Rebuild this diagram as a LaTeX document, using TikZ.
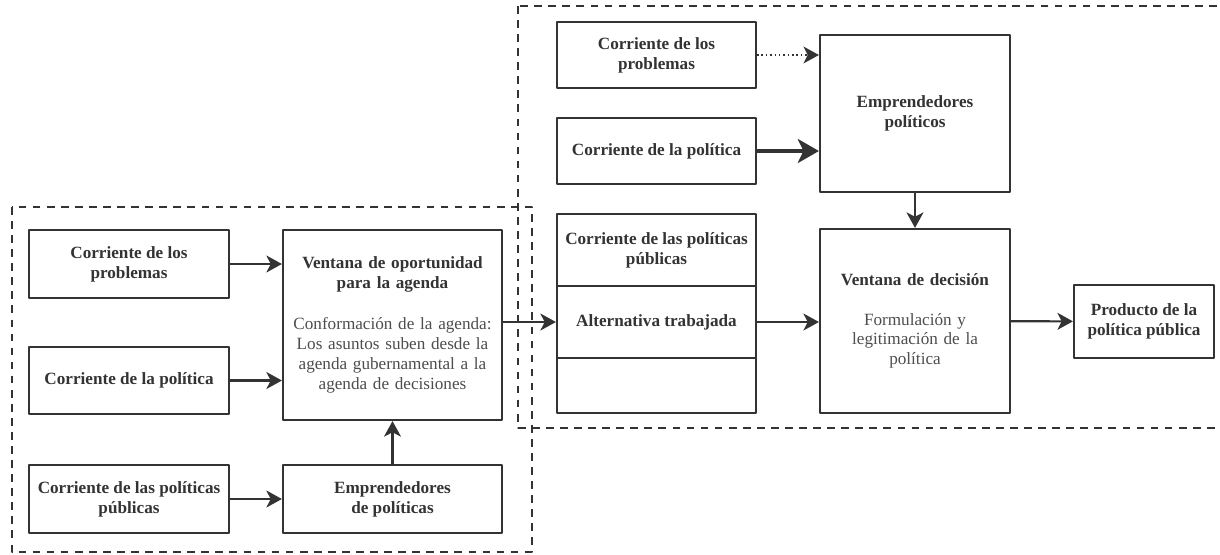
\documentclass[tikz,border=0pt]{standalone}
\usepackage{fontspec}
\setmainfont{Liberation Serif}
\usetikzlibrary{arrows.meta}
\definecolor{ink}{HTML}{333333}
\definecolor{note}{HTML}{4D4D4D}

\begin{document}
\begin{tikzpicture}[x=0.025cm,y=-0.025cm,line join=round,
  >={Stealth[length=11pt,width=12pt,inset=3pt]},
  font=\fontsize{12.2}{14.2}\selectfont\bfseries,
  box/.style={draw=ink,line width=1.5pt,align=center,inner sep=2pt,text=ink},
  flow/.style={->,draw=ink,line width=1.5pt},
  zone/.style={draw=ink,line width=1.3pt,dash pattern=on 5.5pt off 4.5pt}]
	\useasboundingbox (0,0) rectangle (1220,554);
	\draw[zone] (12,207) rectangle (532,552);
	\draw[zone] (518,6) rectangle (1240,428);

	\node[box,minimum width=5cm,minimum height=1.7cm] (lprob) at (129,264) {Corriente de los\\problemas};
	\node[box,minimum width=5cm,minimum height=1.675cm] (lpol) at (129,380.5) {Corriente de la política};
	\node[box,minimum width=5cm,minimum height=1.7cm] (lpub) at (129,499) {Corriente de las políticas\\públicas};
	\node[box,minimum width=5.475cm,minimum height=4.75cm,text width=5.3cm] (vopor) at (392.5,325)
		{Ventana de oportunidad\\para la agenda\\[15pt]{\mdseries\color{note}Conformación de la agenda:\\Los asuntos suben desde la\\agenda gubernamental a la\\agenda de decisiones}};
	\node[box,minimum width=5.475cm,minimum height=1.7cm] (lemp) at (392.5,499) {Emprendedores\\de políticas};

	\node[box,minimum width=4.975cm,minimum height=1.65cm] (rprob) at (656.5,55) {Corriente de los\\problemas};
	\node[box,minimum width=4.975cm,minimum height=1.65cm] (rpol) at (656.5,151) {Corriente de la política};
	\node[box,minimum width=4.975cm,minimum height=1.8cm] (pubtop) at (656.5,250) {Corriente de las políticas\\públicas};
	\node[box,minimum width=4.975cm,minimum height=1.8cm] (alt) at (656.5,322) {Alternativa trabajada};
	\node[box,minimum width=4.975cm,minimum height=1.375cm] (pubbot) at (656.5,385.5) {};
	\node[box,minimum width=4.75cm,minimum height=3.925cm] (remp) at (915,113.5) {Emprendedores\\políticos};
	\node[box,minimum width=4.75cm,minimum height=4.6cm,text width=4.5cm] (vdec) at (915,321)
		{Ventana de decisión\\[14pt]{\mdseries\color{note}Formulación y\\legitimación de la\\política}};
	\node[box,minimum width=3.5cm,minimum height=1.825cm] (prod) at (1144,321.5) {Producto de la\\política pública};

	\draw[flow] (lprob) -- (lprob -| vopor.west);
	\draw[flow] (lpol) -- (lpol -| vopor.west);
	\draw[flow] (lpub) -- (lemp);
	\draw[flow] (lemp) -- (vopor);
	\draw[flow] (alt.west -| vopor.east) -- (alt);
	\draw[flow] (alt) -- (alt -| vdec.west);
	\draw[flow] (vdec) -- (prod);
	\draw[flow,line width=1.1pt,dotted] (rprob) -- (rprob -| remp.west);
	\draw[flow,line width=3pt,-{Stealth[length=15pt,width=17pt,inset=4pt]}] (rpol) -- (rpol -| remp.west);
	\draw[flow] (remp) -- (vdec);

\end{tikzpicture}
\end{document}
